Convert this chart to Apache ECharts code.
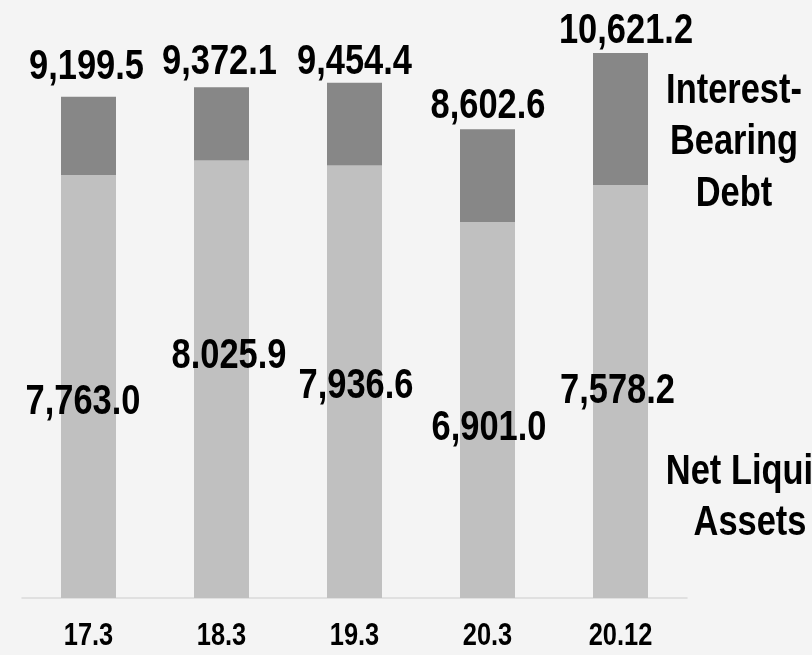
<!DOCTYPE html>
<html>
<head>
<meta charset="utf-8">
<title>Interest-Bearing Debt / Net Liquid Assets</title>
<script src="https://cdn.jsdelivr.net/npm/echarts@6/dist/echarts.min.js"></script>
<style>
  html, body { margin: 0; padding: 0; background: #f4f4f4; }
  #chart { width: 812px; height: 655px; }
</style>
</head>
<body>
<div id="chart"></div>
<script>
// data
var periods = ['17.3', '18.3', '19.3', '20.3', '20.12'];
var netLiquidAssets = [7763.0, 8025.9, 7936.6, 6901.0, 7578.2];
var interestBearingDebt = [9199.5, 9372.1, 9454.4, 8602.6, 10621.2];
// label text as printed on the slide (note the typo in 18.3)
var netLabels = ['7,763.0', '8.025.9', '7,936.6', '6,901.0', '7,578.2'];

// value axis stops at 10,000 in the source, the 20.12 bar gets cut there
var yMax = 10000;

// no Arial Narrow here -> bold Liberation Sans squeezed horizontally
var FONT = "'Liberation Sans', Arial, sans-serif";
var NARROW = 0.82;
var DARK = '#878787';
var LIGHT = '#c0c0c0';

// hand-placed label nudges from the slide (px)
var netOffsets = [[-5.5, 16], [7.5, -23], [1.5, 5], [1.5, 18], [-3, 0]];
var debtOffsets = [[-2, -29], [-2, -25], [0, -20], [0.5, -22.5], [5.5, -21.5]];

function fmt(v) {
  return v.toLocaleString('en-US', { minimumFractionDigits: 1, maximumFractionDigits: 1 });
}

function txt(x, y, s, size, lh) {
  return {
    type: 'text',
    x: x,
    y: y,
    z: 100,
    scaleX: NARROW,
    silent: true,
    style: {
      text: s,
      fill: '#000',
      fontFamily: FONT,
      fontWeight: 'bold',
      fontSize: size,
      lineHeight: lh || size,
      align: 'center',
      verticalAlign: 'middle'
    }
  };
}

var chart = echarts.init(document.getElementById('chart'));

chart.setOption({
  backgroundColor: '#f4f4f4',
  animation: false,
  grid: { left: 22, right: 125, top: 53, bottom: 57 },
  xAxis: {
    type: 'category',
    data: periods,
    axisLine: { lineStyle: { color: '#d9d9d9', width: 1.5 } },
    axisTick: { show: false },
    axisLabel: { show: false }
  },
  yAxis: {
    type: 'value',
    min: 0,
    max: yMax,
    show: false,
    splitLine: { show: false }
  },
  series: [{
    name: 'Net Liquid Assets',
    type: 'bar',
    stack: 'total',
    barWidth: 55,
    data: netLiquidAssets,
    itemStyle: { color: LIGHT }
  }, {
    name: 'Interest-Bearing Debt',
    type: 'bar',
    stack: 'total',
    barWidth: 55,
    data: interestBearingDebt.map(function (v, i) { return +(v - netLiquidAssets[i]).toFixed(1); }),
    itemStyle: { color: DARK }
  }]
});

// labels placed through the chart's own scales
var g = [];
periods.forEach(function (p, i) {
  var base = chart.convertToPixel({ gridIndex: 0 }, [i, 0]);
  var netTop = chart.convertToPixel({ gridIndex: 0 }, [i, netLiquidAssets[i]]);
  var top = chart.convertToPixel({ gridIndex: 0 }, [i, Math.min(interestBearingDebt[i], yMax)]);
  g.push(txt(base[0], base[1] + 38.5, p, 31));
  g.push(txt(base[0] + netOffsets[i][0], (base[1] + netTop[1]) / 2 + netOffsets[i][1], netLabels[i], 42));
  g.push(txt(top[0] + debtOffsets[i][0], top[1] + debtOffsets[i][1], fmt(interestBearingDebt[i]), 42));
});
g.push(txt(734, 142.5, 'Interest-\nBearing\nDebt', 42, 51.5));
g.push(txt(750, 498, 'Net Liquid\nAssets', 42, 51.5));

chart.setOption({ graphic: g });
</script>
</body>
</html>
